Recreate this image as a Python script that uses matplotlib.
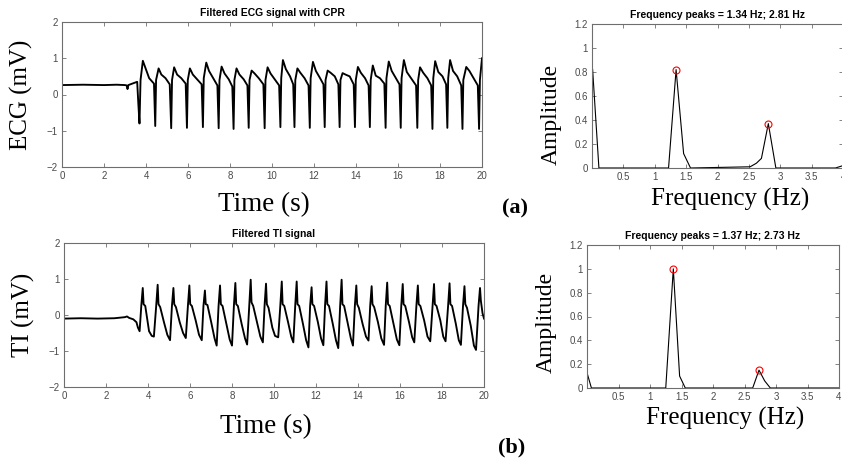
import matplotlib
matplotlib.use("Agg")
import matplotlib.pyplot as plt

# ---- ECG signal (vertices) ----
ecg_t = [
    0.0, 1.0, 2.0, 2.6, 3.0, 3.08, 3.12, 3.16, 3.45, 3.58, 3.63,
    3.69, 3.74, 3.85, 3.98, 4.15, 4.38,
    4.44, 4.48, 4.60, 4.73, 4.93, 5.13,
    5.20, 5.24, 5.34, 5.48, 5.68, 5.89,
    5.95, 5.99, 6.09, 6.23, 6.43, 6.65,
    6.71, 6.75, 6.87, 7.00, 7.20, 7.40,
    7.46, 7.50, 7.60, 7.74, 7.94, 8.11,
    8.17, 8.21, 8.31, 8.45, 8.65, 8.83,
    8.89, 8.93, 9.03, 9.17, 9.37, 9.59,
    9.65, 9.69, 9.79, 9.93, 10.13, 10.34,
    10.40, 10.44, 10.52, 10.66, 10.86, 11.01,
    11.07, 11.11, 11.21, 11.35, 11.55, 11.74,
    11.80, 11.84, 11.95, 12.09, 12.29, 12.45,
    12.51, 12.55, 12.65, 12.79, 12.99, 13.16,
    13.22, 13.26, 13.36, 13.50, 13.70, 13.89,
    13.95, 13.99, 14.09, 14.23, 14.43, 14.60,
    14.66, 14.70, 14.80, 14.94, 15.14, 15.35,
    15.41, 15.45, 15.56, 15.70, 15.90, 16.07,
    16.13, 16.17, 16.28, 16.42, 16.62, 16.86,
    16.92, 16.96, 17.05, 17.20, 17.40, 17.58,
    17.64, 17.68, 17.77, 17.92, 18.12, 18.29,
    18.35, 18.39, 18.48, 18.62, 18.82, 19.01,
    19.07, 19.11, 19.25, 19.40, 19.60, 19.80,
    19.86, 19.90, 20.0,
]
ecg_v = [
    0.26, 0.27, 0.26, 0.27, 0.26, 0.25, 0.15, 0.26, 0.32, 0.35, -0.20,
    -0.80, 0.40, 0.93, 0.72, 0.45, 0.30,
    -0.87, 0.40, 0.72, 0.55, 0.45, 0.28,
    -0.93, 0.40, 0.75, 0.55, 0.45, 0.30,
    -0.92, 0.40, 0.72, 0.55, 0.42, 0.28,
    -0.90, 0.45, 0.88, 0.65, 0.45, 0.25,
    -0.93, 0.40, 0.77, 0.58, 0.42, 0.22,
    -0.95, 0.40, 0.72, 0.55, 0.42, 0.25,
    -0.92, 0.40, 0.66, 0.58, 0.45, 0.28,
    -0.93, 0.40, 0.75, 0.58, 0.42, 0.25,
    -0.90, 0.45, 0.95, 0.70, 0.50, 0.28,
    -0.90, 0.40, 0.72, 0.60, 0.45, 0.25,
    -0.92, 0.45, 0.90, 0.65, 0.45, 0.28,
    -0.90, 0.40, 0.66, 0.60, 0.50, 0.28,
    -0.90, 0.40, 0.59, 0.55, 0.50, 0.28,
    -0.90, 0.40, 0.76, 0.60, 0.45, 0.25,
    -0.90, 0.40, 0.80, 0.52, 0.45, 0.30,
    -0.92, 0.45, 0.91, 0.65, 0.45, 0.28,
    -0.92, 0.45, 0.95, 0.62, 0.45, 0.25,
    -0.92, 0.40, 0.75, 0.60, 0.45, 0.25,
    -0.95, 0.45, 0.92, 0.62, 0.50, 0.28,
    -0.92, 0.45, 0.95, 0.65, 0.50, 0.25,
    -0.95, 0.40, 0.76, 0.65, 0.45, 0.25,
    -0.95, 0.40, 1.00,
]

# ---- TI signal ----
ti_t = [
    0.0, 0.8, 1.6, 2.4, 2.9, 3.0, 3.1, 3.3, 3.45, 3.52,
    3.60, 3.68, 3.75, 3.79, 3.87, 4.05, 4.18,
    4.28, 4.39, 4.46, 4.50, 4.58, 4.76, 4.92,
    5.05, 5.14, 5.21, 5.25, 5.33, 5.51, 5.67,
    5.80, 5.90, 5.97, 6.01, 6.09, 6.27, 6.43,
    6.56, 6.64, 6.71, 6.75, 6.83, 7.01, 7.17,
    7.27, 7.36, 7.43, 7.47, 7.55, 7.73, 7.89,
    8.00, 8.09, 8.16, 8.20, 8.28, 8.46, 8.62,
    8.72, 8.82, 8.89, 8.93, 9.01, 9.19, 9.35,
    9.47, 9.55, 9.62, 9.66, 9.74, 9.92, 10.05,
    10.20, 10.30, 10.37, 10.41, 10.49, 10.67, 10.82,
    10.92, 11.01, 11.08, 11.12, 11.20, 11.38, 11.53,
    11.64, 11.72, 11.79, 11.83, 11.91, 12.09, 12.24,
    12.35, 12.43, 12.50, 12.54, 12.62, 12.80, 12.95,
    13.06, 13.15, 13.22, 13.26, 13.34, 13.52, 13.66,
    13.76, 13.85, 13.92, 13.96, 14.04, 14.22, 14.38,
    14.50, 14.58, 14.65, 14.69, 14.77, 14.95, 15.11,
    15.24, 15.32, 15.39, 15.43, 15.51, 15.69, 15.85,
    15.97, 16.06, 16.13, 16.17, 16.25, 16.43, 16.58,
    16.68, 16.78, 16.85, 16.89, 16.97, 17.15, 17.31,
    17.44, 17.55, 17.62, 17.66, 17.74, 17.92, 18.06,
    18.17, 18.29, 18.36, 18.40, 18.48, 18.66, 18.80,
    18.90, 19.00, 19.07, 19.11, 19.19, 19.37, 19.52,
    19.62, 19.74, 19.81, 19.85, 19.93, 20.0,
]
ti_v = [
    -0.10, -0.09, -0.10, -0.09, -0.06, -0.04, -0.08, -0.12, -0.20, -0.35,
    -0.45, 0.25, 0.75, 0.30, 0.25, -0.45, -0.58,
    -0.60, 0.25, 0.84, 0.30, 0.22, -0.20, -0.55,
    -0.70, 0.25, 0.75, 0.30, 0.22, -0.20, -0.50,
    -0.64, 0.25, 0.82, 0.30, 0.25, -0.15, -0.55,
    -0.70, 0.25, 0.68, 0.30, 0.28, -0.20, -0.65,
    -0.85, 0.25, 0.82, 0.30, 0.25, -0.25, -0.68,
    -0.85, 0.25, 0.89, 0.30, 0.25, -0.25, -0.65,
    -0.82, 0.25, 0.98, 0.35, 0.25, -0.20, -0.60,
    -0.76, 0.25, 0.87, 0.30, 0.20, -0.35, -0.58,
    -0.62, 0.25, 0.93, 0.30, 0.25, -0.20, -0.60,
    -0.76, 0.25, 0.93, 0.30, 0.25, -0.25, -0.70,
    -0.90, 0.25, 0.77, 0.30, 0.25, -0.20, -0.65,
    -0.84, 0.25, 0.93, 0.30, 0.25, -0.25, -0.70,
    -0.92, 0.25, 0.98, 0.30, 0.25, -0.25, -0.65,
    -0.85, 0.25, 0.82, 0.30, 0.20, -0.25, -0.60,
    -0.71, 0.25, 0.80, 0.30, 0.22, -0.20, -0.65,
    -0.83, 0.25, 0.90, 0.30, 0.25, -0.25, -0.68,
    -0.84, 0.25, 0.86, 0.30, 0.25, -0.20, -0.62,
    -0.76, 0.25, 0.82, 0.30, 0.25, -0.15, -0.60,
    -0.73, 0.25, 0.86, 0.30, 0.25, -0.15, -0.60,
    -0.73, 0.25, 0.88, 0.30, 0.25, -0.25, -0.70,
    -0.83, 0.25, 0.80, 0.30, 0.20, -0.30, -0.85,
    -0.97, 0.25, 0.75, 0.40, 0.05, -0.10,
]

# ---- amplitude spectra ----
ecg_f = [0.01, 0.11, 0.40, 1.22, 1.34, 1.46, 1.57, 2.52, 2.62, 2.70, 2.81, 2.93, 3.88, 4.0]
ecg_a = [0.82, 0.0, 0.0, 0.0, 0.82, 0.12, 0.0, 0.01, 0.04, 0.08, 0.37, 0.0, 0.0, 0.02]
ecg_peak_f = [1.34, 2.81]
ecg_peak_a = [0.82, 0.37]

ti_f = [0.01, 0.07, 1.25, 1.37, 1.47, 1.56, 2.63, 2.73, 2.82, 2.91, 4.0]
ti_a = [0.11, 0.0, 0.0, 1.0, 0.10, 0.0, 0.0, 0.15, 0.06, 0.0, 0.0]
ti_peak_f = [1.37, 2.73]
ti_peak_a = [1.0, 0.15]

time_ticks = list(range(0, 21, 2))
sig_ticks = [-2, -1, 0, 1, 2]
freq_ticks = [0.5, 1, 1.5, 2, 2.5, 3, 3.5, 4]
freq_labels = ["0.5", "1", "1.5", "2", "2.5", "3", "3.5", "4"]
amp_ticks = [0, 0.2, 0.4, 0.6, 0.8, 1.0, 1.2]
amp_labels = ["0", "0.2", "0.4", "0.6", "0.8", "1", "1.2"]

SERIF = "Liberation Serif"
SANS = "Liberation Sans"
W, H = 842, 463


def px_axes(fig, left, top, right, bottom):
    return fig.add_axes([left / W, 1 - bottom / H, (right - left) / W, (bottom - top) / H])


def style(ax):
    for s in ax.spines.values():
        s.set_color("#6e6e6e")
        s.set_linewidth(0.8)
    ax.tick_params(direction="in", top=True, right=True, length=3, width=0.6,
                   color="#6e6e6e", labelsize=7, labelcolor="#4a4a4a", pad=3)
    for lab in ax.get_xticklabels() + ax.get_yticklabels():
        lab.set_family(SANS)


def signal_panel(ax, t, v, title, ylabel, xlab_pos, ylab_pos):
    ax.plot(t, v, color="black", lw=1.35)
    ax.set_xlim(0, 20)
    ax.set_ylim(-2, 2)
    ax.set_xticks(time_ticks)
    ax.set_yticks(sig_ticks)
    ax.set_title(title, fontsize=7.5, fontweight="bold", family=SANS, pad=4)
    ax.set_xlabel("Time (s)", fontsize=19.5, family=SERIF)
    ax.set_ylabel(ylabel, fontsize=18, family=SERIF)
    ax.xaxis.set_label_coords(*xlab_pos)
    ax.yaxis.set_label_coords(*ylab_pos)
    style(ax)


def spectrum_panel(ax, f, a, pf, pa, title, xlab_pos, ylab_pos):
    ax.plot(f, a, color="black", lw=0.8)
    ax.plot(pf, pa, "o", mfc="none", mec="red", ms=5, mew=0.8)
    ax.set_xlim(0.0, 4.0)
    ax.set_ylim(0, 1.2)
    ax.set_xticks(freq_ticks)
    ax.set_xticklabels(freq_labels)
    ax.set_yticks(amp_ticks)
    ax.set_yticklabels(amp_labels)
    ax.set_title(title, fontsize=7.5, fontweight="bold", family=SANS, pad=4)
    ax.set_xlabel("Frequency (Hz)", fontsize=18, family=SERIF)
    ax.set_ylabel("Amplitude", fontsize=17, family=SERIF)
    ax.xaxis.set_label_coords(*xlab_pos)
    ax.yaxis.set_label_coords(*ylab_pos)
    style(ax)


fig = plt.figure(figsize=(W / 100, H / 100), dpi=100)

ax1 = px_axes(fig, 62, 22, 482, 167)
signal_panel(ax1, ecg_t, ecg_v, "Filtered ECG signal with CPR", "ECG (mV)",
             (0.48, -0.175), (-0.069, 0.5))

ax2 = px_axes(fig, 592, 24, 843, 168)
spectrum_panel(ax2, ecg_f, ecg_a, ecg_peak_f, ecg_peak_a,
               "Frequency peaks = 1.34 Hz; 2.81 Hz", (0.55, -0.14), (-0.12, 0.37))

ax3 = px_axes(fig, 64, 243, 484, 387)
signal_panel(ax3, ti_t, ti_v, "Filtered TI signal", "TI (mV)",
             (0.48, -0.19), (-0.069, 0.5))

ax4 = px_axes(fig, 587, 245, 839, 388)
spectrum_panel(ax4, ti_f, ti_a, ti_peak_f, ti_peak_a,
               "Frequency peaks = 1.37 Hz; 2.73 Hz", (0.55, -0.135), (-0.119, 0.456))

fig.text(515 / W, 1 - 208 / H, "(a)", fontsize=16, fontweight="bold", family=SERIF,
         ha="center", va="center")
fig.text(512 / W, 1 - 447 / H, "(b)", fontsize=16, fontweight="bold", family=SERIF,
         ha="center", va="center")

fig.savefig("out.png", dpi=100)
